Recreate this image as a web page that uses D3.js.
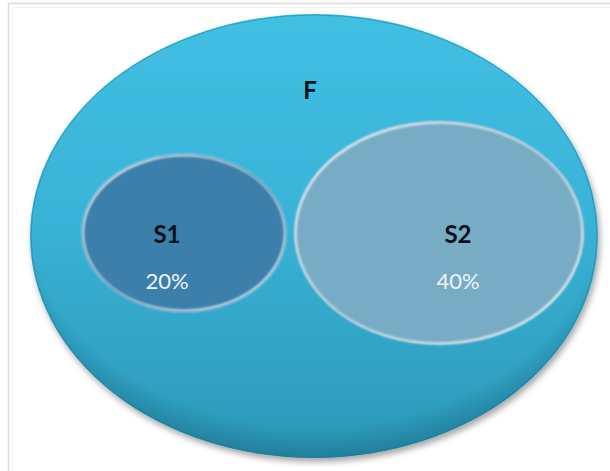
<!DOCTYPE html>
<html>
<head>
<meta charset="utf-8">
<script src="https://cdn.jsdelivr.net/npm/d3@7"></script>
<style>
  html, body { margin: 0; padding: 0; background: #ffffff; }
  svg { display: block; }
</style>
</head>
<body>
<svg id="chart" width="610" height="471"></svg>
<script>
// Set names and shares
const setNames = ["S1", "S2"];
const setShares = [20, 40];
const setLabels = ["20%", "40%"];
const universeName = "F";

// Layout (positions and styles)
const W = 610, H = 471;
const universe = { cx: 314, cy: 236, rx: 284, ry: 222 };
const setCenters = [[184, 233], [439, 233]];
const labelDx = [-17, 19];
const setFills = ["#3c7faa", "#78abc4"];

// Radii grow with the square root of each share, so area tracks the value
const rxScale = d3.scaleSqrt().domain([0, 40]).range([0, 145]);
const ryScale = d3.scaleSqrt().domain([0, 40]).range([0, 112]);

const svg = d3.select("#chart");
const defs = svg.append("defs");

// Vertical gradient for the universe ellipse
const ug = defs.append("linearGradient").attr("id", "uGrad")
  .attr("x1", 0).attr("y1", 0).attr("x2", 0).attr("y2", 1);
ug.append("stop").attr("offset", "0%").attr("stop-color", "#41c0e3");
ug.append("stop").attr("offset", "45%").attr("stop-color", "#39b3d7");
ug.append("stop").attr("offset", "100%").attr("stop-color", "#2c98b8");

// Dark bevel at the lower edge
const rim = defs.append("radialGradient").attr("id", "uRim")
  .attr("cx", "50%").attr("cy", "42%").attr("r", "58%");
rim.append("stop").attr("offset", "88%").attr("stop-color", "#1a6f8a").attr("stop-opacity", 0);
rim.append("stop").attr("offset", "100%").attr("stop-color", "#1a6f8a").attr("stop-opacity", 0.6);

// Soft drop shadow
const sh = defs.append("filter").attr("id", "shadow")
  .attr("x", "-10%").attr("y", "-10%").attr("width", "120%").attr("height", "125%");
sh.append("feGaussianBlur").attr("in", "SourceAlpha").attr("stdDeviation", 3).attr("result", "b");
sh.append("feOffset").attr("in", "b").attr("dx", 2).attr("dy", 4).attr("result", "o");
sh.append("feComponentTransfer").attr("in", "o").attr("result", "s")
  .append("feFuncA").attr("type", "linear").attr("slope", 0.35);
const m = sh.append("feMerge");
m.append("feMergeNode").attr("in", "s");
m.append("feMergeNode").attr("in", "SourceGraphic");

// Glossy rim blur for the inner sets
const gl = defs.append("filter").attr("id", "glow")
  .attr("x", "-10%").attr("y", "-10%").attr("width", "120%").attr("height", "120%");
gl.append("feGaussianBlur").attr("stdDeviation", 0.8);

// Rim highlight gradient (bright at top and lower-left)
const hg = defs.append("linearGradient").attr("id", "hiGrad")
  .attr("x1", 0).attr("y1", 0).attr("x2", 1).attr("y2", 1);
hg.append("stop").attr("offset", "0%").attr("stop-color", "#ffffff").attr("stop-opacity", 0.9);
hg.append("stop").attr("offset", "50%").attr("stop-color", "#ffffff").attr("stop-opacity", 0.45);
hg.append("stop").attr("offset", "100%").attr("stop-color", "#ffffff").attr("stop-opacity", 0.85);

// Frame
svg.append("path").attr("d", `M8.5,${H} V3.5 H${W}`)
  .attr("fill", "none").attr("stroke", "#dcdcdc").attr("stroke-width", 1.5);
svg.append("path").attr("d", `M12.5,${H} V7.5 H${W}`)
  .attr("fill", "none").attr("stroke", "#f1f1f1").attr("stroke-width", 1);

// Universe ellipse
svg.append("ellipse")
  .attr("cx", universe.cx).attr("cy", universe.cy)
  .attr("rx", universe.rx).attr("ry", universe.ry)
  .attr("fill", "url(#uGrad)")
  .attr("filter", "url(#shadow)");
svg.append("ellipse")
  .attr("cx", universe.cx).attr("cy", universe.cy)
  .attr("rx", universe.rx).attr("ry", universe.ry)
  .attr("fill", "url(#uRim)");
svg.append("ellipse")
  .attr("cx", universe.cx).attr("cy", universe.cy)
  .attr("rx", universe.rx - 1).attr("ry", universe.ry - 1)
  .attr("fill", "none").attr("stroke", "#1f7a96").attr("stroke-opacity", 0.5).attr("stroke-width", 1);

svg.append("text")
  .attr("x", 310).attr("y", 99)
  .attr("text-anchor", "middle")
  .attr("font-family", "Lato, 'Open Sans', sans-serif")
  .attr("font-weight", "bold").attr("font-size", 24)
  .attr("fill", "#0a0f1a")
  .text(universeName);

// Inner sets
const sets = setNames.map((name, i) => ({
  name, share: setShares[i], label: setLabels[i],
  cx: setCenters[i][0], cy: setCenters[i][1], dx: labelDx[i], fill: setFills[i]
}));

const g = svg.selectAll("g.set").data(sets).join("g").attr("class", "set");

g.append("ellipse")
  .attr("cx", d => d.cx).attr("cy", d => d.cy)
  .attr("rx", d => rxScale(d.share)).attr("ry", d => ryScale(d.share))
  .attr("fill", d => d.fill);

g.append("ellipse")
  .attr("cx", d => d.cx).attr("cy", d => d.cy)
  .attr("rx", d => rxScale(d.share) - 1.5).attr("ry", d => ryScale(d.share) - 1.5)
  .attr("fill", "none")
  .attr("stroke", "url(#hiGrad)").attr("stroke-width", 2.5)
  .attr("filter", "url(#glow)");

g.append("text")
  .attr("x", d => d.cx + d.dx).attr("y", d => d.cy + 10)
  .attr("text-anchor", "middle")
  .attr("font-family", "Lato, 'Open Sans', sans-serif")
  .attr("font-weight", "bold").attr("font-size", 24)
  .attr("fill", "#0a0f1a")
  .text(d => d.name);

g.append("text")
  .attr("x", d => d.cx + d.dx).attr("y", d => d.cy + 56)
  .attr("text-anchor", "middle")
  .attr("font-family", "Lato, 'Open Sans', sans-serif")
  .attr("font-size", 22)
  .attr("fill", "#eef3f8")
  .text(d => d.label);
</script>
</body>
</html>
